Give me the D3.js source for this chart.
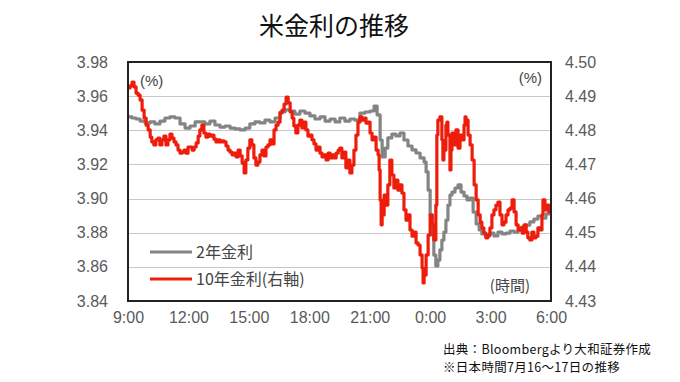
<!DOCTYPE html>
<html><head><meta charset="utf-8">
<script src="https://cdn.jsdelivr.net/npm/d3@7"></script>
<style>
html,body{margin:0;padding:0;background:#fff;}
svg{display:block;}
</style>
</head><body>
<svg id="chart" width="680" height="382"></svg>
<script>
// ---- Data ----
const chartTitle = "米金利の推移";
const xTickLabels = ["9:00","12:00","15:00","18:00","21:00","0:00","3:00","6:00"];
const leftTicks = [3.84,3.86,3.88,3.90,3.92,3.94,3.96,3.98];
const rightTicks = [4.43,4.44,4.45,4.46,4.47,4.48,4.49,4.50];
const seriesNames = ["2年金利","10年金利(右軸)"];
const sourceLines = ["出典：Bloombergより大和証券作成","※日本時間7月16～17日の推移"];

// [minutes since 9:00 JST, yield %]
const twoYear = [[0,3.9478],[6,3.9478],[12,3.9472],[24,3.9466],[36,3.9454],[51,3.9443],[66,3.9449],[80,3.9437],[95,3.9454],[110,3.9472],[125,3.9478],[140,3.9472],[155,3.9437],[170,3.9413],[185,3.9425],[200,3.9449],[214,3.9449],[229,3.9437],[244,3.9454],[259,3.9431],[274,3.9419],[289,3.9425],[304,3.9413],[319,3.9408],[334,3.9402],[349,3.9413],[363,3.9437],[378,3.9449],[393,3.9443],[408,3.9460],[423,3.9449],[438,3.9472],[453,3.9507],[468,3.9519],[483,3.9513],[497,3.9495],[512,3.9513],[527,3.9501],[542,3.9484],[557,3.9466],[572,3.9478],[587,3.9454],[602,3.9466],[617,3.9449],[631,3.9472],[646,3.9454],[661,3.9466],[676,3.9460],[691,3.9501],[706,3.9507],[721,3.9513],[733,3.9542],[742,3.9490],[751,3.9343],[757,3.9244],[766,3.9296],[774,3.9355],[786,3.9378],[798,3.9367],[810,3.9384],[822,3.9343],[834,3.9308],[846,3.9285],[858,3.9267],[870,3.9238],[882,3.9214],[888,3.9156],[894,3.9050],[900,3.8904],[906,3.8787],[911,3.8669],[917,3.8605],[923,3.8640],[929,3.8699],[935,3.8757],[941,3.8804],[947,3.8874],[953,3.8962],[959,3.9021],[965,3.9038],[974,3.9062],[983,3.9080],[992,3.9038],[1001,3.9015],[1010,3.8992],[1019,3.9003],[1028,3.8921],[1037,3.8851],[1046,3.8816],[1054,3.8793],[1066,3.8781],[1078,3.8798],[1090,3.8781],[1102,3.8804],[1114,3.8793],[1126,3.8798],[1138,3.8810],[1150,3.8804],[1162,3.8816],[1174,3.8834],[1186,3.8845],[1197,3.8863],[1209,3.8880],[1221,3.8898],[1233,3.8886],[1245,3.8910],[1257,3.8904]];

const tenYear = [[0,4.4924],[6,4.4930],[12,4.4941],[18,4.4927],[24,4.4909],[30,4.4903],[36,4.4889],[42,4.4859],[48,4.4836],[54,4.4815],[60,4.4801],[66,4.4780],[71,4.4766],[77,4.4757],[83,4.4772],[89,4.4777],[95,4.4757],[101,4.4772],[107,4.4783],[113,4.4757],[119,4.4772],[125,4.4789],[131,4.4777],[137,4.4766],[143,4.4757],[149,4.4742],[155,4.4733],[161,4.4736],[167,4.4742],[173,4.4733],[179,4.4751],[185,4.4751],[191,4.4742],[197,4.4751],[203,4.4763],[209,4.4783],[214,4.4801],[220,4.4815],[226,4.4792],[232,4.4780],[238,4.4789],[244,4.4783],[250,4.4786],[256,4.4774],[262,4.4766],[268,4.4772],[274,4.4766],[280,4.4769],[286,4.4766],[292,4.4754],[298,4.4742],[304,4.4736],[310,4.4728],[316,4.4733],[322,4.4722],[328,4.4742],[334,4.4725],[340,4.4704],[346,4.4675],[351,4.4713],[357,4.4748],[363,4.4772],[369,4.4757],[375,4.4719],[381,4.4698],[387,4.4707],[393,4.4728],[399,4.4742],[405,4.4725],[411,4.4751],[417,4.4757],[423,4.4772],[429,4.4760],[435,4.4801],[441,4.4815],[447,4.4824],[453,4.4851],[459,4.4859],[465,4.4877],[471,4.4897],[477,4.4880],[483,4.4854],[489,4.4836],[494,4.4813],[500,4.4792],[506,4.4815],[512,4.4830],[518,4.4807],[524,4.4824],[530,4.4801],[536,4.4783],[542,4.4786],[548,4.4772],[554,4.4760],[560,4.4742],[566,4.4751],[572,4.4733],[578,4.4722],[584,4.4728],[590,4.4713],[596,4.4733],[602,4.4719],[608,4.4728],[614,4.4719],[620,4.4733],[626,4.4742],[631,4.4748],[637,4.4719],[643,4.4736],[649,4.4690],[655,4.4713],[661,4.4675],[667,4.4698],[673,4.4742],[679,4.4786],[685,4.4824],[691,4.4839],[697,4.4830],[703,4.4836],[709,4.4821],[715,4.4824],[721,4.4792],[727,4.4772],[733,4.4780],[739,4.4742],[745,4.4728],[748,4.4684],[751,4.4596],[754,4.4523],[757,4.4552],[763,4.4610],[769,4.4581],[774,4.4640],[780,4.4713],[786,4.4669],[792,4.4631],[798,4.4654],[804,4.4625],[810,4.4640],[816,4.4616],[822,4.4567],[828,4.4537],[834,4.4552],[840,4.4508],[846,4.4490],[852,4.4502],[858,4.4470],[864,4.4464],[870,4.4435],[876,4.4397],[879,4.4353],[882,4.4376],[888,4.4435],[894,4.4493],[900,4.4552],[906,4.4523],[911,4.4479],[917,4.4581],[920,4.4786],[923,4.4830],[929,4.4839],[935,4.4772],[938,4.4713],[941,4.4742],[947,4.4815],[950,4.4824],[953,4.4786],[959,4.4684],[962,4.4742],[965,4.4792],[971,4.4757],[977,4.4801],[983,4.4748],[989,4.4786],[995,4.4772],[1001,4.4815],[1004,4.4839],[1007,4.4830],[1013,4.4786],[1019,4.4757],[1025,4.4713],[1031,4.4640],[1037,4.4596],[1043,4.4552],[1049,4.4531],[1054,4.4514],[1060,4.4499],[1066,4.4485],[1072,4.4493],[1078,4.4514],[1084,4.4552],[1090,4.4567],[1096,4.4581],[1102,4.4590],[1108,4.4552],[1114,4.4523],[1120,4.4531],[1126,4.4552],[1132,4.4567],[1138,4.4572],[1144,4.4596],[1150,4.4561],[1156,4.4523],[1162,4.4508],[1168,4.4514],[1174,4.4499],[1180,4.4523],[1186,4.4502],[1191,4.4485],[1197,4.4479],[1203,4.4502],[1209,4.4485],[1215,4.4490],[1221,4.4514],[1227,4.4508],[1233,4.4552],[1236,4.4596],[1242,4.4567],[1248,4.4581],[1254,4.4561],[1260,4.4567]];

// ---- Layout ----
const svg = d3.select("#chart");
const plot = {left:128, top:62, right:551, bottom:301};
const tickFont = "'Liberation Sans', Arial, sans-serif";
const jpFont = "'Noto Sans CJK JP', 'Noto Sans', sans-serif";
const axisGrey = "#5a5a5a";

const x = d3.scaleLinear().domain([0, 1260]).range([plot.left, plot.right]);
const yL = d3.scaleLinear().domain([3.84, 3.98]).range([plot.bottom, plot.top]);
const yR = d3.scaleLinear().domain([4.43, 4.50]).range([plot.bottom, plot.top]);
const xTickVals = xTickLabels.map((d,i)=>i*180);

// Title
svg.append("text").attr("x", 334).attr("y", 35).attr("text-anchor","middle")
  .style("font-family", jpFont).style("font-size","25px").attr("fill","#111").text(chartTitle);

// Gridlines
svg.append("g").selectAll("line").data(leftTicks.slice(1,-1)).join("line")
  .attr("x1", plot.left).attr("x2", plot.right)
  .attr("y1", d=>Math.round(yL(d))+0.5).attr("y2", d=>Math.round(yL(d))+0.5)
  .attr("stroke","#c8c8c8").attr("stroke-width",1.2);

// Left axis
const leftAxis = d3.axisLeft(yL).tickValues(leftTicks).tickFormat(d3.format(".2f")).tickSize(0).tickPadding(20);
const gL = svg.append("g").attr("transform",`translate(${plot.left},0)`).call(leftAxis);
gL.select(".domain").remove();
gL.selectAll("text").style("font-family",tickFont).style("font-size","16px").attr("fill",axisGrey);

// Right axis
const rightAxis = d3.axisRight(yR).tickValues(rightTicks).tickFormat(d3.format(".2f")).tickSize(0).tickPadding(14);
const gR = svg.append("g").attr("transform",`translate(${plot.right},0)`).call(rightAxis);
gR.select(".domain").remove();
gR.selectAll("text").style("font-family",tickFont).style("font-size","16px").attr("fill",axisGrey);

// Bottom axis
const bottomAxis = d3.axisBottom(x).tickValues(xTickVals).tickFormat((d,i)=>xTickLabels[i]).tickSize(0).tickPadding(11);
const gB = svg.append("g").attr("transform",`translate(0,${plot.bottom})`).call(bottomAxis);
gB.select(".domain").remove();
gB.selectAll("text").style("font-family",tickFont).style("font-size","16px").attr("fill",axisGrey);

// Lines
svg.append("defs").append("clipPath").attr("id","clip").append("rect")
  .attr("x",plot.left).attr("y",plot.top).attr("width",plot.right-plot.left).attr("height",plot.bottom-plot.top);

const lineL = d3.line().x(d=>x(d[0])).y(d=>yL(d[1])).curve(d3.curveStepAfter);
const lineR = d3.line().x(d=>x(d[0])).y(d=>yR(d[1])).curve(d3.curveStepAfter);
svg.append("path").datum(twoYear).attr("d",lineL).attr("fill","none")
  .attr("stroke","#848484").attr("stroke-width",3.2).attr("stroke-linejoin","round").attr("clip-path","url(#clip)");
svg.append("path").datum(tenYear).attr("d",lineR).attr("fill","none")
  .attr("stroke","#ee1c0a").attr("stroke-width",3.2).attr("stroke-linejoin","round").attr("clip-path","url(#clip)");

// Frame
svg.append("rect").attr("x",plot.left).attr("y",plot.top).attr("width",plot.right-plot.left).attr("height",plot.bottom-plot.top)
  .attr("fill","none").attr("stroke","#222").attr("stroke-width",2);

// Unit labels
svg.append("text").attr("x",140).attr("y",86).style("font-family",tickFont).style("font-size","15px").attr("fill","#444").text("(%)");
svg.append("text").attr("x",542).attr("y",83).attr("text-anchor","end").style("font-family",tickFont).style("font-size","15px").attr("fill","#444").text("(%)");
svg.append("text").attr("x",530).attr("y",291).attr("text-anchor","end").style("font-family",jpFont).style("font-size","15px").attr("fill","#444").text("(時間)");

// Legend
const legendColors = ["#848484","#ee1c0a"];
const lg = svg.append("g");
seriesNames.forEach((name,i)=>{
  const yy = 252 + i*27;
  lg.append("line").attr("x1",150).attr("x2",192).attr("y1",yy).attr("y2",yy)
    .attr("stroke",legendColors[i]).attr("stroke-width",3.2);
  lg.append("text").attr("x",196).attr("y",yy+6).style("font-family",jpFont).style("font-size","16px")
    .attr("fill","#444").text(name);
});

// Source
sourceLines.forEach((s,i)=>{
  svg.append("text").attr("x",443).attr("y",354 + i*18.4).style("font-family",jpFont).style("font-size","12.5px")
    .style("letter-spacing","0.3px").attr("fill","#111").text(s);
});
</script>
</body></html>
